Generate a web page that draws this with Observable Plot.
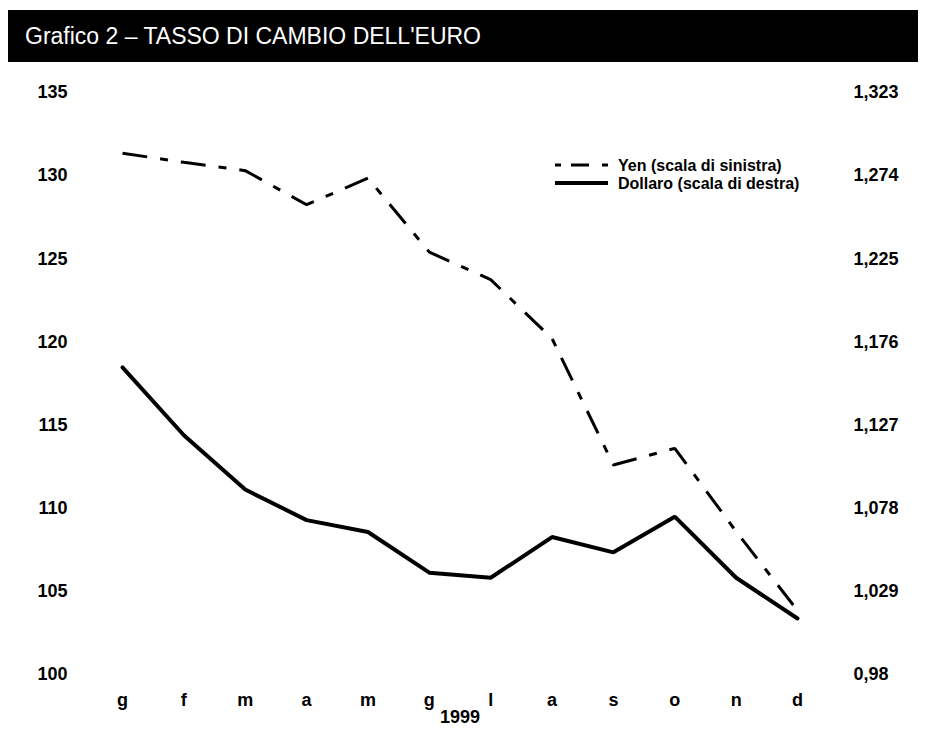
<!DOCTYPE html>
<html>
<head>
<meta charset="utf-8">
<script src="https://cdn.jsdelivr.net/npm/d3@7"></script>
<script src="https://cdn.jsdelivr.net/npm/@observablehq/plot@0.6"></script>
<style>
  html, body { margin: 0; padding: 0; background: #fff; }
  #wrap { position: relative; width: 928px; height: 733px; overflow: hidden; }
  #title {
    margin: 10px 10px 0 8px; height: 52px; background: #000; color: #fff;
    font-family: "Liberation Sans", Arial, sans-serif; font-size: 23px;
    line-height: 52px; padding-left: 17px; box-sizing: border-box;
  }
  #legend { position: absolute; left: 548px; top: 150px; }
  svg text { font-family: "Liberation Sans", Arial, sans-serif; }
</style>
</head>
<body>
<div id="wrap">
  <div id="title">Grafico 2 – TASSO DI CAMBIO DELL'EURO</div>
  <div id="chart"></div>
  <svg id="legend" width="270" height="45">
    <line x1="7" x2="60" y1="15" y2="15" stroke="#000" stroke-width="3" stroke-dasharray="6,10,18,13,6,100"></line>
    <text x="70" y="15" dy="0.35em" font-size="16" font-weight="bold" fill="#000">Yen (scala di sinistra)</text>
    <line x1="7" x2="60" y1="33" y2="33" stroke="#000" stroke-width="4"></line>
    <text x="70" y="33" dy="0.35em" font-size="16" font-weight="bold" fill="#000">Dollaro (scala di destra)</text>
  </svg>
</div>
<script>
const months = ["g","f","m","a","m","g","l","a","s","o","n","d"];
const yen = [131.35, 130.8, 130.3, 128.25, 129.85, 125.4, 123.75, 120.2, 112.6, 113.6, 108.6, 103.85];
const dollar = [1.161, 1.121, 1.089, 1.071, 1.064, 1.040, 1.037, 1.061, 1.052, 1.073, 1.037, 1.013];
const leftTicks = [100, 105, 110, 115, 120, 125, 130, 135];
const ratio = 0.0098; // right scale = left scale * ratio (135 -> 1,323)

const rows = months.map((m, i) => ({i, m, yen: yen[i], dollar: dollar[i], dollarL: dollar[i] / ratio}));
const fmtRight = v => String(+(v * ratio).toFixed(3)).replace(".", ",");

const chart = Plot.plot({
  width: 928,
  height: 671,
  marginTop: 30,
  marginBottom: 59,
  marginLeft: 122,
  marginRight: 131,
  style: {fontFamily: "Liberation Sans, Arial, sans-serif", background: "#fff"},
  x: {domain: [0, 11], axis: null},
  y: {domain: [100, 135], axis: null},
  marks: [
    Plot.axisY({ticks: leftTicks, anchor: "left", tickSize: 0, tickPadding: 55, label: null,
      fontSize: 18, fontWeight: "bold", fill: "#000", tickFormat: d => String(d)}),
    Plot.axisY({ticks: leftTicks, anchor: "right", tickSize: 0, tickPadding: 56, label: null,
      fontSize: 18, fontWeight: "bold", fill: "#000", tickFormat: fmtRight}),
    Plot.axisX({ticks: d3.range(12), anchor: "bottom", tickSize: 0, tickPadding: 19, label: null,
      fontSize: 18, fontWeight: "bold", fill: "#000", tickFormat: i => months[i]}),
    Plot.text(["1999"], {frameAnchor: "bottom", dy: 48, lineAnchor: "bottom", fontSize: 18, fontWeight: "bold", fill: "#000"}),
    Plot.line(rows, {x: "i", y: "yen", stroke: "#000", strokeWidth: 3, strokeDasharray: "25,13,8,13", strokeLinejoin: "miter", strokeLinecap: "butt"}),
    Plot.line(rows, {x: "i", y: "dollarL", stroke: "#000", strokeWidth: 4, strokeLinejoin: "miter"})
  ]
});
document.getElementById("chart").appendChild(chart);
</script>
</body>
</html>
